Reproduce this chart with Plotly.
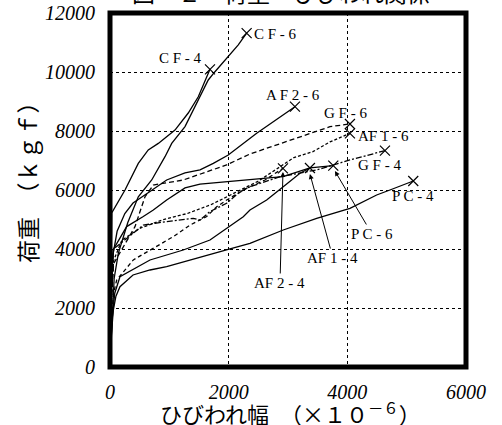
import plotly.graph_objects as go

# ---------------- data ----------------
x_ticks = [0, 2000, 4000, 6000]
y_ticks = [0, 2000, 4000, 6000, 8000, 10000, 12000]

cf6_x = [0, 40, 70, 140, 300, 477, 703, 927, 1040, 1264, 1377, 1545, 1656, 1769, 1938, 2162, 2303]
cf6_y = [0, 2000, 3000, 3850, 4900, 5770, 6340, 7130, 7580, 8150, 8600, 9280, 9730, 10010, 10410, 10920, 11320]

cf4_x = [0, 10, 20, 29, 253, 477, 645, 814, 1095, 1319, 1488, 1629, 1685]
cf4_y = [0, 2500, 4300, 5220, 6000, 6900, 7360, 7580, 8030, 8610, 9160, 9840, 10090]

af26_x = [0, 20, 50, 120, 250, 388, 674, 955, 1264, 1517, 1741, 1993, 2472, 2865, 3117]
af26_y = [0, 2500, 3800, 4600, 5200, 5560, 5950, 6340, 6577, 6680, 6905, 7187, 7922, 8485, 8824]

gf6_x = [0, 20, 60, 421, 590, 730, 1235, 1966, 2359, 3202, 3707, 4044]
gf6_y = [0, 2000, 3500, 4756, 5773, 6170, 6339, 6850, 7221, 7797, 8146, 8238]

af16_x = [0, 20, 60, 200, 500, 900, 1300, 1700, 2100, 2500, 2800, 3100, 3420, 3707, 4044]
af16_y = [0, 2200, 3600, 4300, 4700, 5000, 5200, 5500, 5900, 6300, 6700, 7100, 7300, 7630, 7922]

gf4_x = [0, 20, 60, 388, 561, 955, 1404, 1517, 1685, 1966, 2190, 2359, 2865, 3483, 4044, 4634]
gf4_y = [0, 2500, 4000, 4540, 4810, 4930, 5040, 4980, 5270, 5550, 5940, 6110, 6450, 6680, 7020, 7333]

af24_x = [0, 20, 60, 113, 393, 674, 1067, 1348, 1629, 1798, 1966, 2303, 2612, 2915]
af24_y = [0, 1500, 2500, 2950, 3630, 3970, 4420, 4810, 5100, 5430, 5660, 6060, 6340, 6735]

pc6_x = [0, 20, 51, 281, 561, 730, 955, 1264, 1517, 1966, 2359, 2915, 3370, 3763]
pc6_y = [0, 2500, 3970, 4760, 5100, 5320, 5660, 6070, 6200, 6280, 6340, 6450, 6750, 6825]

af14_x = [0, 30, 80, 168, 674, 1235, 1685, 2246, 2359, 2640, 2920, 3202, 3370]
af14_y = [0, 1500, 2500, 3061, 3627, 3966, 4305, 5095, 5322, 5661, 6112, 6566, 6746]

pc4_x = [0, 20, 56, 100, 168, 388, 674, 955, 1993, 2359, 2920, 3483, 4044, 4494, 4718, 5111]
pc4_y = [0, 1000, 1930, 2400, 2722, 3119, 3288, 3400, 3990, 4193, 4644, 5041, 5380, 5831, 6000, 6305]

series = [
    ("CF-6", cf6_x, cf6_y, "solid"),
    ("CF-4", cf4_x, cf4_y, "solid"),
    ("AF2-6", af26_x, af26_y, "solid"),
    ("GF-6", gf6_x, gf6_y, "5px,3px"),
    ("AF1-6", af16_x, af16_y, "3px,2px"),
    ("GF-4", gf4_x, gf4_y, "6px,2px,2px,2px"),
    ("AF2-4", af24_x, af24_y, "4px,3px"),
    ("PC-6", pc6_x, pc6_y, "solid"),
    ("AF1-4", af14_x, af14_y, "solid"),
    ("PC-4", pc4_x, pc4_y, "solid"),
]

# ---------------- figure ----------------
fig = go.Figure()
for name, xs, ys, dash in series:
    fig.add_trace(go.Scatter(x=xs, y=ys, mode="lines", name=name,
                             line=dict(color="black", width=1.3, dash=dash),
                             showlegend=False, hoverinfo="skip"))

fig.add_trace(go.Scatter(
    x=[s[1][-1] for s in series], y=[s[2][-1] for s in series],
    mode="markers", showlegend=False, hoverinfo="skip",
    marker=dict(symbol="x-thin", size=10, line=dict(color="black", width=1.2))))

lab_font = dict(family="Liberation Serif", size=15, color="black")
labels = [
    ("C F - 6", 2797, 11289),
    ("C F - 4", 1196, 10475),
    ("A F 2 - 6", 3084, 9221),
    ("G F - 6", 3977, 8611),
    ("AF 1 - 6", 4617, 7831),
    ("G F - 4", 4550, 6848),
    ("P C - 4", 5106, 5797),
]
for t, x, y in labels:
    fig.add_annotation(x=x, y=y, text=t, showarrow=False, font=lab_font)

arrow_labels = [
    ("P C - 6", 4415, 4509, 3791, 6644),
    ("AF 1 - 4", 3758, 3695, 3370, 6543),
    ("AF 2 - 4", 2865, 2848, 2915, 6611),
]
for t, tx, ty, hx, hy in arrow_labels:
    fig.add_annotation(x=hx, y=hy, ax=tx, ay=ty, axref="x", ayref="y",
                       text=t, showarrow=True, arrowhead=2, arrowsize=1,
                       arrowwidth=1, arrowcolor="black", font=lab_font)

cjk = "Noto Sans CJK JP"
fig.add_annotation(xref="paper", yref="paper", x=0.506, y=-0.128,
                   text="ひびわれ幅　（×１０<sup>－６</sup>）", showarrow=False,
                   font=dict(family=cjk, size=22, color="black"),
                   xanchor="center", yanchor="middle")
fig.add_annotation(xref="paper", yref="paper", x=-0.233, y=0.537,
                   text="荷重　（ｋｇｆ）", textangle=-90, showarrow=False,
                   font=dict(family=cjk, size=23, color="black"),
                   xanchor="center", yanchor="middle")
fig.add_annotation(xref="paper", yref="paper", x=0.48, y=1.006,
                   text="図－２　荷重－ひびわれ関係", showarrow=False,
                   font=dict(family=cjk, size=23, color="black"),
                   xanchor="center", yanchor="bottom")

fig.add_shape(type="rect", xref="paper", yref="paper", x0=0, x1=1, y0=0, y1=1,
              line=dict(color="black", width=5), layer="above")

tick_font = dict(family="Liberation Serif", size=20, color="black", style="italic")
fig.update_xaxes(range=[0, 6000], tickvals=x_ticks, ticktext=[str(v) for v in x_ticks],
                 showgrid=True, gridcolor="black", gridwidth=1, griddash="dot",
                 zeroline=False, showline=False, ticks="", tickfont=tick_font,
                 ticklabelstandoff=11, automargin=False)
fig.update_yaxes(range=[0, 12000], tickvals=y_ticks, ticktext=[str(v) for v in y_ticks],
                 showgrid=True, gridcolor="black", gridwidth=1, griddash="dot",
                 zeroline=False, showline=False, ticks="", tickfont=tick_font,
                 ticklabelstandoff=14, automargin=False)

fig.update_layout(width=502, height=425, margin=dict(l=110, r=36, t=13, b=58),
                  plot_bgcolor="white", paper_bgcolor="white")

fig.write_html("out.html", config={"displayModeBar": False},
               post_script="document.body.style.margin='0';document.body.style.overflow='hidden';")
